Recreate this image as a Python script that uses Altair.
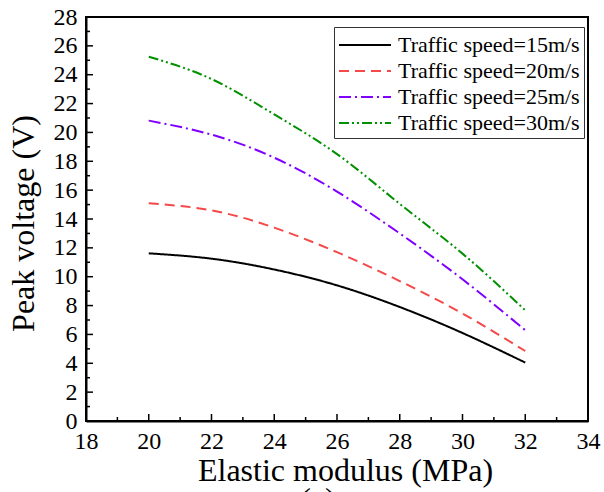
import altair as alt
import pandas as pd

modulus = [20, 22, 24, 26, 28, 30, 32]
v15 = [11.62, 11.25, 10.5, 9.4, 7.9, 6.1, 4.05]
v20 = [15.09, 14.6, 13.4, 11.7, 9.7, 7.45, 4.85]
v25 = [20.82, 19.85, 18.25, 15.9, 13.0, 9.82, 6.29]
v30 = [25.25, 23.7, 21.25, 18.5, 15.05, 11.6, 7.67]
series = ["Traffic speed=15m/s", "Traffic speed=20m/s",
          "Traffic speed=25m/s", "Traffic speed=30m/s"]
colors = ["#000000", "#F54848", "#8000FF", "#009000"]
dashes = [[1, 0], [10, 6], [12, 4, 2, 4], [10, 3, 2, 3, 2, 3]]

x_major = list(range(18, 35, 2))
x_minor = list(range(19, 34, 2))
y_major = list(range(0, 29, 2))
y_minor = list(range(1, 28, 2))

rows = []
for name, vals in zip(series, [v15, v20, v25, v30]):
    for m, v in zip(modulus, vals):
        rows.append({"modulus": m, "voltage": v, "series": name})
df = pd.DataFrame(rows)

W, H = 502, 404
FONT = "Liberation Serif"

xs = alt.Scale(domain=[18, 34], nice=False, zero=False)
ys = alt.Scale(domain=[0, 28], nice=False, zero=False)

xaxis = alt.Axis(values=x_major, title="Elastic modulus (MPa)", tickSize=0,
                 labelPadding=8, labelFontSize=24, labelFont=FONT,
                 labelColor="black", titleFont=FONT, titleFontSize=32,
                 titleFontWeight="normal", titleColor="black",
                 titleBaseline="top", titleY=34, titleX=259,
                 domainColor="black", domainWidth=2, grid=False,
                 labelFlush=False, labelOverlap=False)
yaxis = alt.Axis(values=y_major, title="Peak voltage (V)", tickSize=0,
                 labelPadding=9, labelFontSize=24, labelFont=FONT,
                 labelColor="black", titleFont=FONT, titleFontSize=32,
                 titleFontWeight="normal", titleColor="black",
                 titleX=-46, titleY=206, titleAnchor="middle",
                 domainColor="black", domainWidth=2, grid=False,
                 labelFlush=False, labelOverlap=False)

leg = dict(orient="none", legendX=248, legendY=10,
           symbolType="M-1,0H3", symbolSize=676,
           symbolStrokeWidth=2, labelFont=FONT,
           labelFontSize=22, labelColor="black",
           labelLimit=400, padding=4,
           strokeColor="#333333", fillColor="white",
           labelOffset=32, rowPadding=1)

lines = alt.Chart(df).mark_line(strokeWidth=2, interpolate="natural").encode(
    x=alt.X("modulus:Q", scale=xs, axis=xaxis),
    y=alt.Y("voltage:Q", scale=ys, axis=yaxis),
    color=alt.Color("series:N", scale=alt.Scale(domain=series, range=colors),
                    title=None, legend=alt.Legend(**leg)),
    strokeDash=alt.StrokeDash("series:N",
                              scale=alt.Scale(domain=series, range=dashes),
                              title=None, legend=alt.Legend(**leg)),
)

ymaj = alt.Chart(pd.DataFrame({"voltage": y_major})).mark_rule(color="black", strokeWidth=1.5).encode(
    y=alt.Y("voltage:Q", scale=ys, axis=yaxis), x=alt.value(0), x2=alt.value(7))
ymin = alt.Chart(pd.DataFrame({"voltage": y_minor})).mark_rule(color="black", strokeWidth=1.5).encode(
    y=alt.Y("voltage:Q", scale=ys, axis=yaxis), x=alt.value(0), x2=alt.value(4))
xmaj = alt.Chart(pd.DataFrame({"modulus": x_major})).mark_rule(color="black", strokeWidth=1.5).encode(
    x=alt.X("modulus:Q", scale=xs, axis=xaxis), y=alt.value(H), y2=alt.value(H - 7))
xmin = alt.Chart(pd.DataFrame({"modulus": x_minor})).mark_rule(color="black", strokeWidth=1.5).encode(
    x=alt.X("modulus:Q", scale=xs, axis=xaxis), y=alt.value(H), y2=alt.value(H - 4))

panel = alt.Chart(pd.DataFrame({"t": ["(a)"]})).mark_text(
    font=FONT, fontSize=32, baseline="top", align="center", color="black").encode(
    text="t:N", x=alt.value(232), y=alt.value(468))

chart = alt.layer(lines, ymaj, ymin, xmaj, xmin, panel).properties(
    width=W, height=H,
    background="white",
    autosize=alt.AutoSizeParams(type="none"),
    padding={"left": 86, "top": 17, "right": 16, "bottom": 71},
).configure(font=FONT).configure_axis(
    labelFont=FONT, titleFont=FONT
).configure_legend(labelFont=FONT).configure_text(font=FONT).configure_view(
    stroke="black", strokeWidth=2)

chart.save("out.html", embed_options={"renderer": "svg", "actions": False})
